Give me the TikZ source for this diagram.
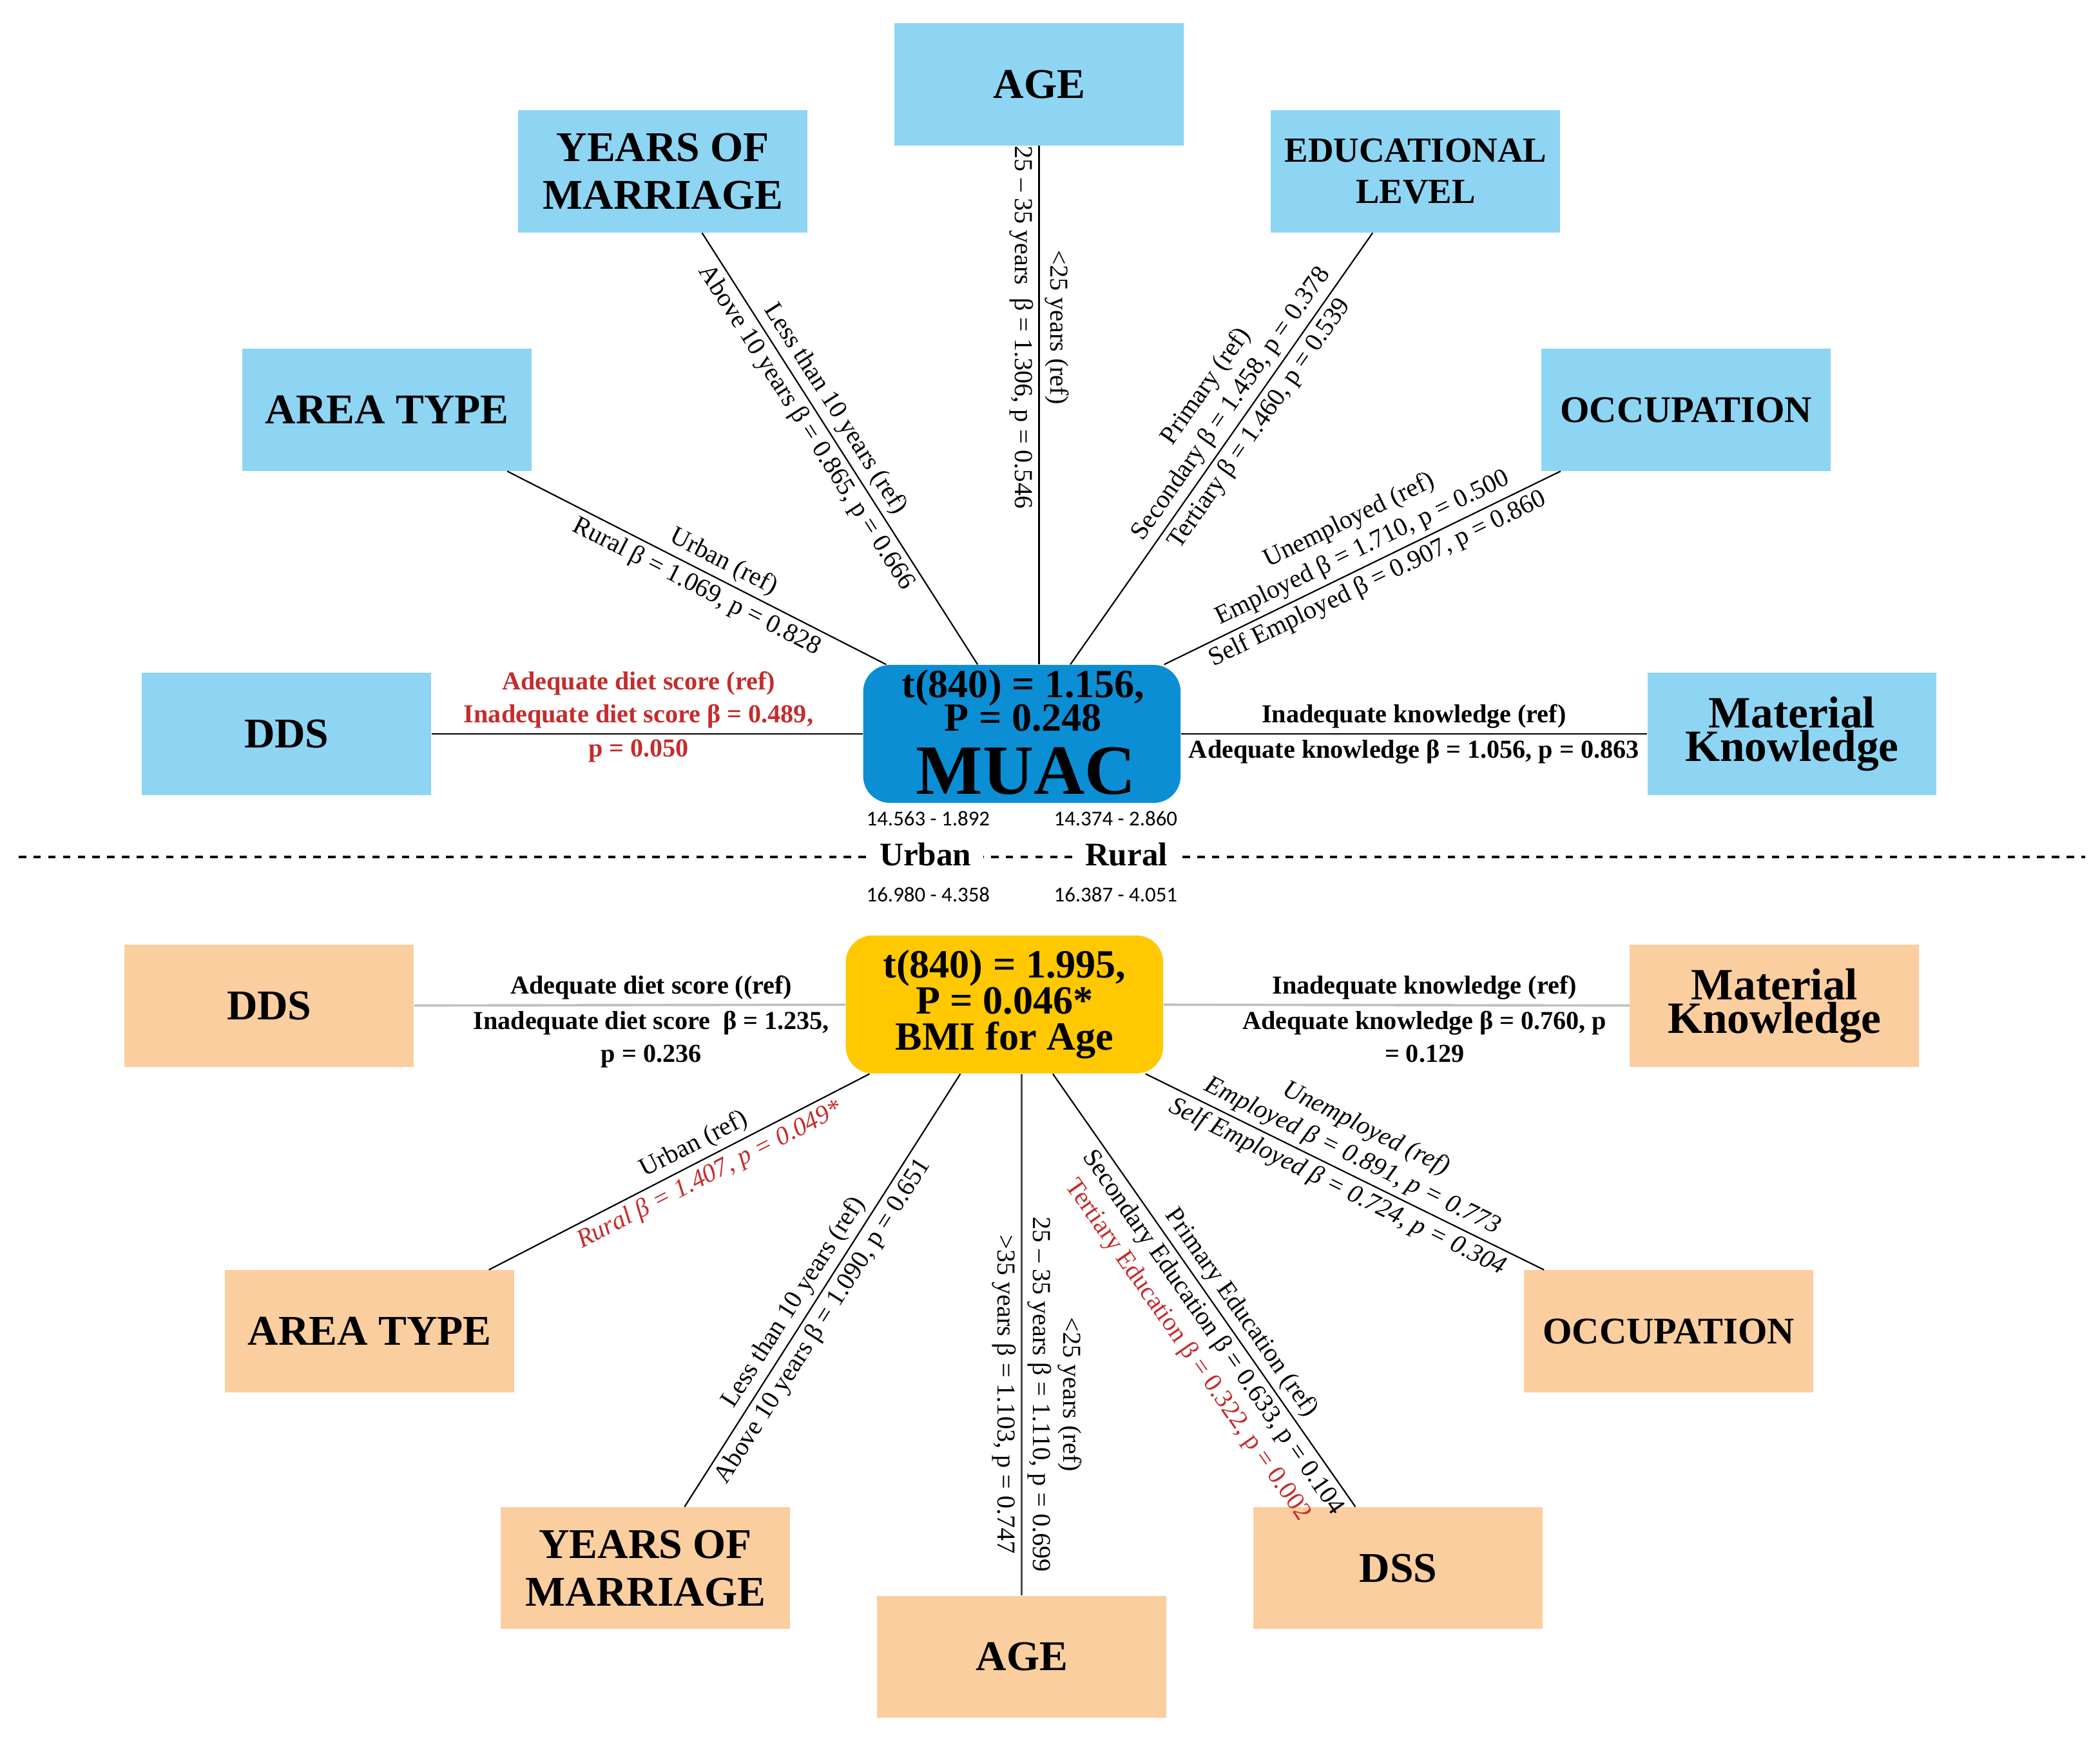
\documentclass[tikz,border=0pt]{standalone}
\usepackage{fontspec}
\setmainfont{Liberation Serif}
\newfontfamily\numfont{Carlito}
\usetikzlibrary{positioning}
\newcommand\tightlines{\setlength{\lineskiplimit}{-8pt}}
\definecolor{skyb}{RGB}{142,213,243}
\definecolor{peach}{RGB}{251,206,159}
\definecolor{muacb}{RGB}{11,142,212}
\definecolor{bmiy}{RGB}{255,200,0}
\definecolor{sigred}{RGB}{196,44,44}
\tikzset{var/.style={fill=skyb,minimum width=43.2mm,minimum height=18.2mm,inner sep=0pt,align=center,font=\bfseries\fontsize{18}{20.4}\selectfont},
varb/.style={var,fill=peach},
hub/.style={rounded corners=4mm,minimum width=47.4mm,minimum height=20.6mm,inner sep=0pt,align=center,font=\bfseries\fontsize{17}{14.5}\selectfont},
link/.style={line width=0.6pt},
glink/.style={line width=1pt,draw=gray!50},
lab/.style={sloped,font=\fontsize{11}{13}\selectfont,align=center,inner sep=2pt},
hlab/.style={font=\bfseries\fontsize{11}{14}\selectfont,align=center,inner sep=2pt},
num/.style={font=\numfont\fontsize{9}{10}\selectfont},
grp/.style={fill=white,inner xsep=5pt,font=\bfseries\fontsize{14}{16}\selectfont}}

\begin{document}
\begin{tikzpicture}[x=0.2mm,y=-0.2mm]
\useasboundingbox (0,0) rectangle (1568,1300);

% MUAC
\node[hub,fill=muacb] (muac) at (763,548) {};
\node[align=center,inner sep=0pt,font=\bfseries\fontsize{17}{14.2}\selectfont\tightlines] (muact) at (764,523) {t(840) = 1.156,\\P = 0.248};
\node[inner sep=0pt,font=\bfseries\fontsize{30}{30}\selectfont] (muacw) at (766,576) {MUAC};
\node[var] (age) at (776,63) {AGE};
\node[var] (yom) at (495,128) {YEARS OF\\MARRIAGE};
\node[var,font=\bfseries\fontsize{15}{17.6}\selectfont] (edu) at (1057,128) {EDUCATIONAL\\LEVEL};
\node[var] (area) at (289,306) {AREA TYPE};
\node[var,font=\bfseries\fontsize{16}{18}\selectfont] (occ) at (1259,306) {OCCUPATION};
\node[var] (dds) at (214,548) {DDS};
\node[var,font=\bfseries\fontsize{19}{13}\selectfont] (mk) at (1338,548) {Material\\Knowledge};

\draw[link,line width=0.8pt] (age) -- node[lab,pos=0.35,above] (agea) {<25 years (ref)}
  node[lab,pos=0.35,below] (ageb) {25 – 35 years~ β = 1.306, p = 0.546} (age |- muac.north);
\draw[link] (yom) -- node[lab,pos=0.43,above] (yoma) {Less than 10 years (ref)}
  node[lab,pos=0.43,below] (yomb) {Above 10 years β = 0.865, p = 0.666} (muac);
\draw[link] (area) -- node[lab,pos=0.55,above] (areaa) {Urban (ref)}
  node[lab,pos=0.52,below] (areab) {Rural β = 1.069, p = 0.828} (muac);
\draw[link] (muac) -- node[lab,pos=0.58,above] (edua) {Primary (ref)\\Secondary β = 1.458, p = 0.378}
  node[lab,pos=0.58,below] (edub) {Tertiary β = 1.460, p = 0.539} (edu);
\draw[link] (muac) -- node[lab,pos=0.52,above] (occa) {Unemployed (ref)\\Employed β = 1.710, p = 0.500}
  node[lab,pos=0.52,below] (occb) {Self Employed β = 0.907, p = 0.860} (occ);
\draw[link,line width=0.8pt] (dds) -- node[hlab,text=sigred,pos=0.48,above] (ddsa) {Adequate diet score (ref)\\Inadequate diet score β = 0.489,}
  node[hlab,text=sigred,pos=0.48,below] (ddsb) {p = 0.050} (muac);
\draw[link,line width=0.8pt] (muac) -- node[hlab,pos=0.5,above] (mka) {Inadequate knowledge (ref)}
  node[hlab,pos=0.5,below] (mkb) {Adequate knowledge β = 1.056, p = 0.863} (mk);

% separator
\draw[line width=1pt,dash pattern=on 1.1mm off 1.1mm] (14,640) -- (1557,640);
\node[grp] (urban) at (691,638) {Urban};
\node[grp] (rural) at (841,638) {Rural};
\node[num] (mu1) at (693,611) {14.563 - 1.892};
\node[num] (mr1) at (833,611) {14.374 - 2.860};
\node[num] (mu2) at (693,668) {16.980 - 4.358};
\node[num] (mr2) at (833,668) {16.387 - 4.051};

% BMI for age
\node[hub,fill=bmiy,font=\bfseries\fontsize{17}{15.3}\selectfont] (bmi) at (750,750) {t(840) = 1.995,\\P = 0.046*\\BMI for Age};
\node[varb] (dds2) at (201,751) {DDS};
\node[varb,font=\bfseries\fontsize{19}{13}\selectfont] (mk2) at (1325,751) {Material\\Knowledge};
\node[varb] (area2) at (276,994) {AREA TYPE};
\node[varb,font=\bfseries\fontsize{16}{18}\selectfont] (occ2) at (1246,994) {OCCUPATION};
\node[varb] (yom2) at (482,1171) {YEARS OF\\MARRIAGE};
\node[varb] (dss) at (1044,1171) {DSS};
\node[varb] (age2) at (763,1237) {AGE};

\draw[glink] (dds2) -- node[hlab,pos=0.55,above] (dds2a) {Adequate diet score ((ref)}
  node[hlab,pos=0.55,below] (dds2b) {Inadequate diet score~ β = 1.235,\\p = 0.236} (bmi);
\draw[glink] (bmi) -- node[hlab,pos=0.56,above] (mk2a) {Inadequate knowledge (ref)}
  node[hlab,pos=0.56,below] (mk2b) {Adequate knowledge β = 0.760, p\\= 0.129} (mk2);
\draw[link] (area2) -- node[lab,pos=0.56,above] (area2a) {Urban (ref)}
  node[lab,pos=0.56,below,text=sigred,font=\itshape\fontsize{11}{13}\selectfont] (area2b) {Rural β = 1.407, p = 0.049*} (bmi);
\draw[link] (yom2) -- node[lab,pos=0.45,above] (yom2a) {Less than 10 years (ref)}
  node[lab,pos=0.45,below] (yom2b) {Above 10 years β = 1.090, p = 0.651} (bmi);
\draw[link,draw=black!70,line width=0.8pt] (bmi.south -| age2) -- node[lab,pos=0.615,above] (age2a) {<25 years (ref)\\25 – 35 years β = 1.110, p = 0.699}
  node[lab,pos=0.615,below] (age2b) {>35 years β = 1.103, p = 0.747} (age2);
\draw[link] (bmi) -- node[lab,pos=0.575,above] (dssa) {Primary Education (ref)}
  node[lab,pos=0.575,below] (dssb) {Secondary Education β = 0.633, p = 0.104\\\textcolor{sigred}{Tertiary Education β = 0.322, p = 0.002}} (dss);
\draw[link] (bmi) -- node[lab,pos=0.5,above,font=\itshape\fontsize{11}{13}\selectfont] (occ2a) {Unemployed (ref)\\Employed β = 0.891, p = 0.773}
  node[lab,pos=0.5,below,font=\itshape\fontsize{11}{13}\selectfont] (occ2b) {Self Employed β = 0.724, p = 0.304} (occ2);
\end{tikzpicture}
\end{document}
